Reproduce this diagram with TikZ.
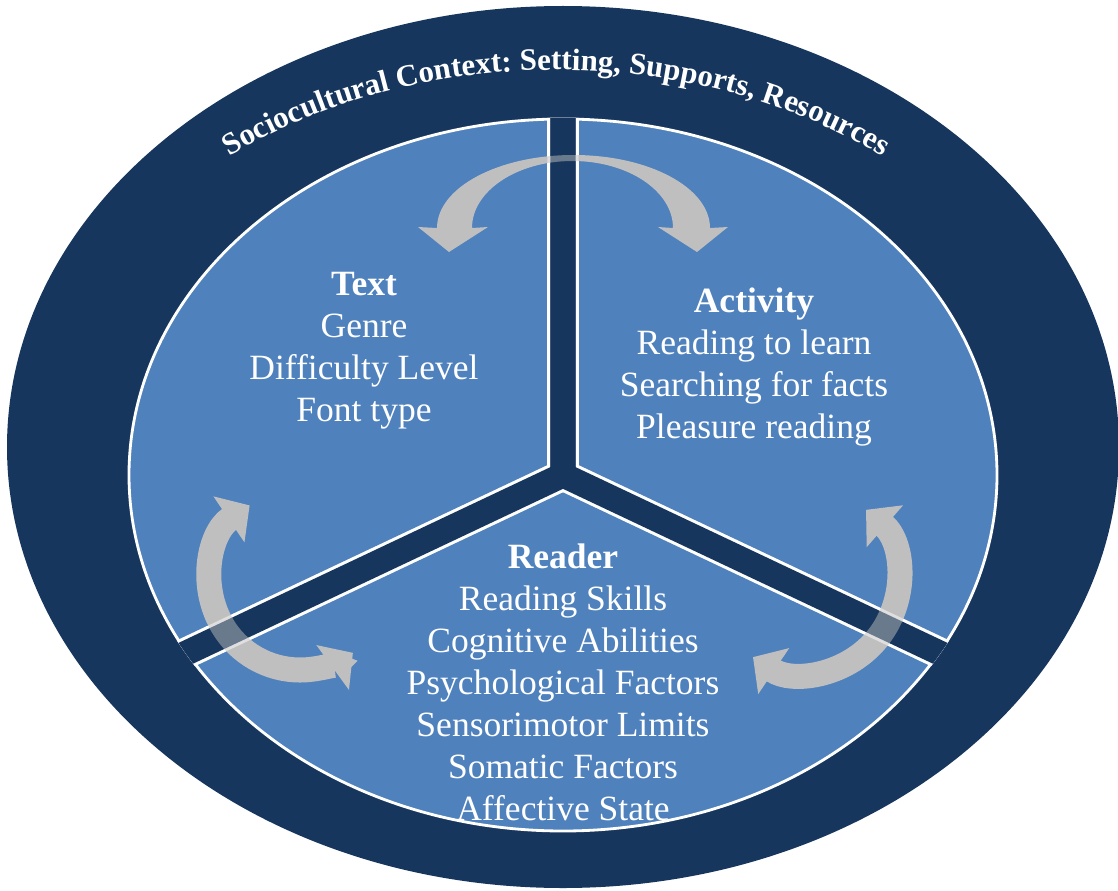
\documentclass[tikz,border=0pt]{standalone}
\usepackage{fontspec}
\setmainfont{Liberation Serif}
\usetikzlibrary{arrows.meta,decorations.text}

\definecolor{ringblue}{HTML}{17365D}
\definecolor{pieblue}{HTML}{4F81BD}
\definecolor{arrowgray}{HTML}{BFBFBF}

\tikzstyle{ring} = [fill=ringblue]
\tikzstyle{piece} = [fill=pieblue, draw=white, line width=0.8pt]
\tikzstyle{gapedge} = [draw=white, line width=0.31cm]
\tikzstyle{gapfill} = [draw=ringblue, line width=0.25cm]
\tikzstyle{turnarrow} = [draw=arrowgray, line width=0.25cm,
    {Triangle[length=0.25cm,width=0.54cm]}-{Triangle[length=0.25cm,width=0.54cm]}]
\tikzstyle{block} = [text=white, align=center, font=\fontsize{10.1pt}{11.95pt}\selectfont]

% the three cuts through the pie
\newcommand{\piegaps}{%
  \begin{scope}
    \clip (c) ellipse[x radius=435.4, y radius=357.4];
    \foreach \a in {90,205.3,334.7} \draw[gapedge] (c) -- ++(\a:500);
    \foreach \a in {90,205.3,334.7} \draw[gapfill] (c) -- ++(\a:500);
  \end{scope}}

\begin{document}
\begin{tikzpicture}[x=0.01cm, y=0.01cm]
\useasboundingbox[fill=white] (0,0) rectangle (1118,890);

% context ring
\fill[ring] (563,443) ellipse[x radius=556, y radius=441];
\path[decorate, decoration={text along path, text align=center, text color=white,
    text={|\bfseries\fontsize{8.8pt}{10pt}\selectfont|Sociocultural Context: Setting, Supports, Resources}}]
    (556,443) ++(140:512 and 377) arc[start angle=140, end angle=40, x radius=512, y radius=377];

% pie
\coordinate (c) at (563,415);
\filldraw[piece] (c) ellipse[x radius=434, y radius=356];
\piegaps

% arrows between the parts
\fill[arrowgray] (449,638) -- (488,663) -- (472,662)
    arc[start angle=180, end angle=0, x radius=100.5, y radius=67]
    -- (658,663) -- (697,638) -- (728,663) -- (710,662)
    arc[start angle=0, end angle=180, x radius=136.5, y radius=73]
    -- (418,663) -- cycle;
\coordinate (lc) at (300,310);
\coordinate (rc) at (805,310);
\draw[turnarrow] ([shift={(124:90)}]lc) arc[start angle=124, end angle=306, radius=90];
\draw[turnarrow] ([shift={(49:93)}]rc) arc[start angle=49, end angle=-124, radius=93];

% cuts show faintly through the arrows
\begin{scope}[transparency group, opacity=0.5]
\piegaps
\end{scope}

% labels
\node[block] (text) at (364,539) {\textbf{Text}\\Genre\\Difficulty Level\\Font type};
\node[block] (activity) at (754,523) {\textbf{Activity}\\Reading to learn\\Searching for facts\\Pleasure reading};
\node[block] (reader) at (563,208) {\textbf{Reader}\\Reading Skills\\Cognitive Abilities\\Psychological Factors\\Sensorimotor Limits\\Somatic Factors\\Affective State};
\end{tikzpicture}
\end{document}
